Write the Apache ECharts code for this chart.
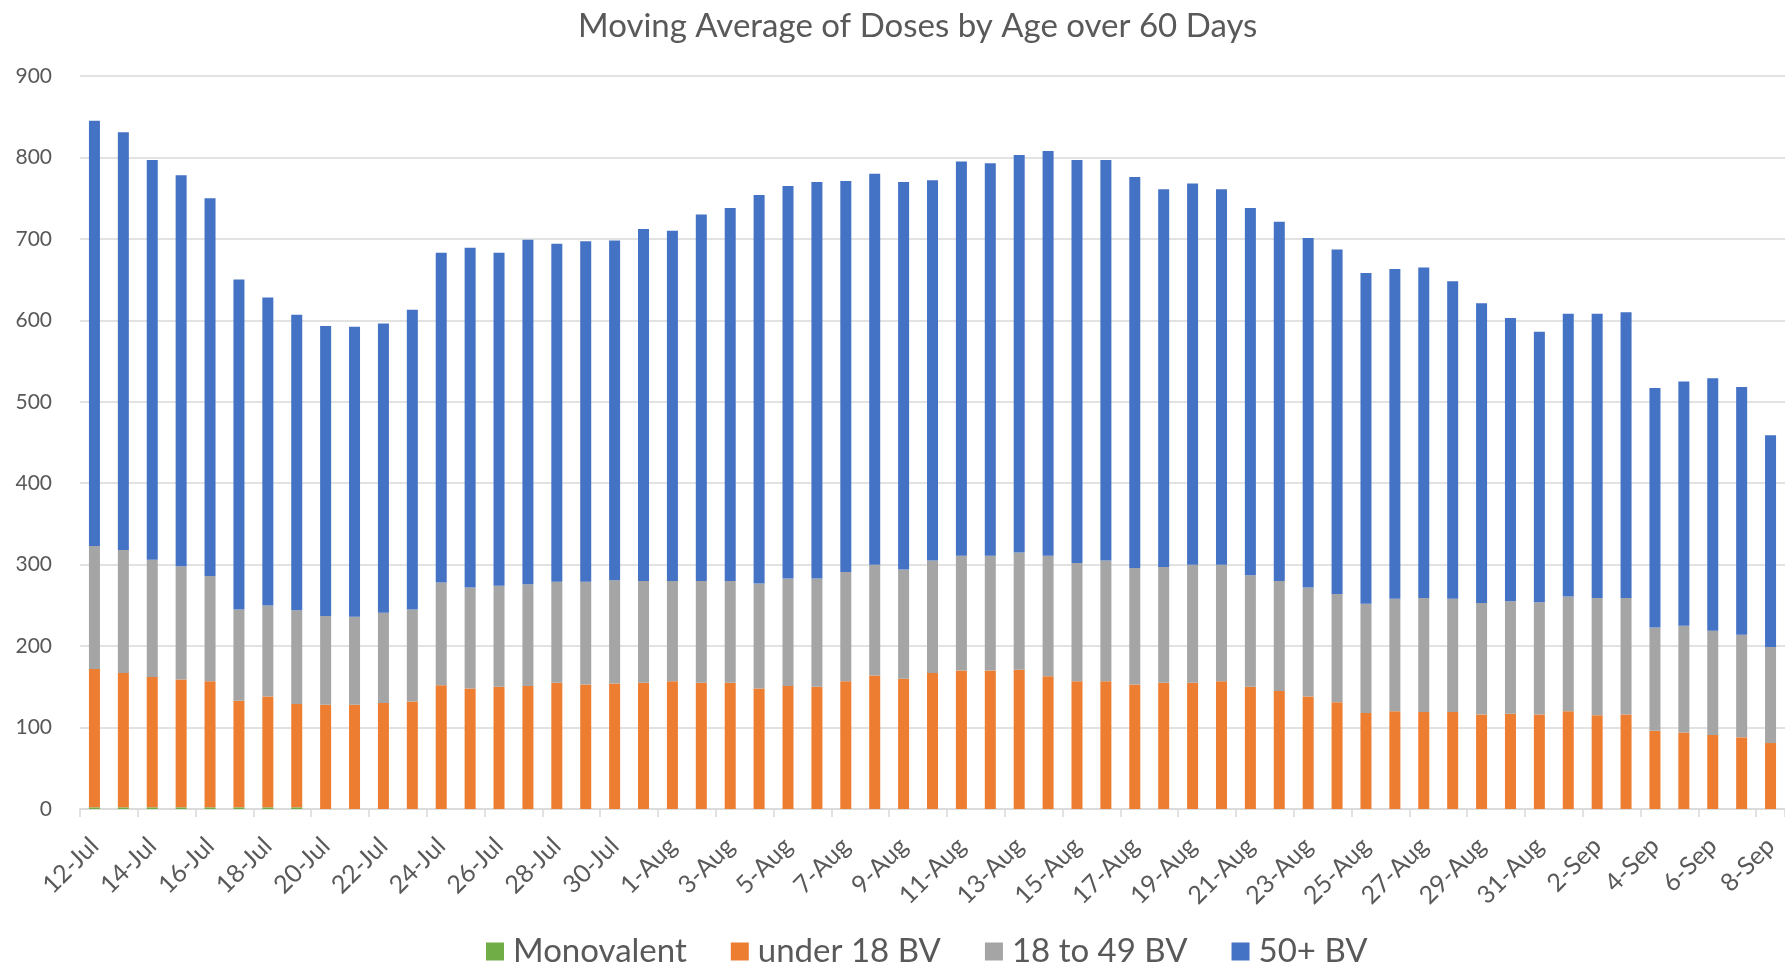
<!DOCTYPE html>
<html>
<head>
<meta charset="utf-8">
<script src="https://cdn.jsdelivr.net/npm/echarts@6/dist/echarts.min.js"></script>
<style>
html,body{margin:0;padding:0;background:#fff;}
#chart{width:1785px;height:963px;}
</style>
</head>
<body>
<div id="chart"></div>
<script>
var categories = ['12-Jul','13-Jul','14-Jul','15-Jul','16-Jul','17-Jul','18-Jul','19-Jul','20-Jul','21-Jul',
  '22-Jul','23-Jul','24-Jul','25-Jul','26-Jul','27-Jul','28-Jul','29-Jul','30-Jul','31-Jul',
  '1-Aug','2-Aug','3-Aug','4-Aug','5-Aug','6-Aug','7-Aug','8-Aug','9-Aug','10-Aug',
  '11-Aug','12-Aug','13-Aug','14-Aug','15-Aug','16-Aug','17-Aug','18-Aug','19-Aug','20-Aug',
  '21-Aug','22-Aug','23-Aug','24-Aug','25-Aug','26-Aug','27-Aug','28-Aug','29-Aug','30-Aug',
  '31-Aug','1-Sep','2-Sep','3-Sep','4-Sep','5-Sep','6-Sep','7-Sep','8-Sep'];

var monovalent = [2,2,2,2,2,2,2,2,0,0, 0,0,0,0,0,0,0,0,0,0, 0,0,0,0,0,0,0,0,0,0,
  0,0,0,0,0,0,0,0,0,0, 0,0,0,0,0,0,0,0,0,0, 0,0,0,0,0,0,0,0,0];

var under18 = [170,165,160,157,155,131,136,127,128,128, 130,132,152,148,150,151,155,153,154,155,
  157,155,155,148,151,150,157,164,160,167, 170,170,171,163,157,157,153,155,155,157,
  150,145,138,131,118,120,119,119,116,117, 116,120,115,116,96,94,91,88,81];

var age18to49 = [151,151,144,139,129,112,112,115,109,108, 111,113,126,124,124,125,124,126,127,125,
  123,125,125,129,132,133,134,136,134,138, 141,141,144,148,145,148,143,142,145,143,
  137,135,134,133,134,138,140,139,137,138, 138,141,144,143,127,131,128,126,118];

var age50plus = [522,513,491,480,464,405,378,363,356,356, 355,368,405,417,409,423,415,418,417,432,
  430,450,458,477,482,487,480,480,476,467, 484,482,488,497,495,492,480,464,468,461,
  451,441,429,423,406,405,406,390,368,348, 332,347,349,351,294,300,310,304,260];

var yTicks = [0,100,200,300,400,500,600,700,800,900];

var FONT = 'Lato';
var TXT = '#595959';

var chart = echarts.init(document.getElementById('chart'), null, {renderer:'canvas'});

function mk(name, data, color) {
  return {
    name: name, type: 'bar', stack: 'total', data: data,
    barWidth: 11,
    itemStyle: {color: color},
    emphasis: {disabled: true}
  };
}

chart.setOption({
  animation: false,
  backgroundColor: '#fff',
  title: {
    text: 'Moving Average of Doses by Age over 60 Days',
    left: 573, top: 5,
    textStyle: {fontFamily: FONT, fontSize: 33, fontWeight: 'normal', color: TXT}
  },
  legend: {
    left: 481, top: 930,
    itemWidth: 18, itemHeight: 18, itemGap: 44,
    icon: 'rect',
    textStyle: {fontFamily: FONT, fontSize: 33, color: TXT, padding: [0,0,0,4]},
    data: ['Monovalent','under 18 BV','18 to 49 BV','50+ BV']
  },
  grid: {left: 80, top: 76, height: 733, width: categories.length * 29.25, containLabel: false},
  xAxis: {
    type: 'category',
    data: categories,
    boundaryGap: true,
    axisLine: {lineStyle: {color: '#d9d9d9', width: 1.5}},
    axisTick: {show: true, interval: 1, length: 8, lineStyle: {color: '#d9d9d9', width: 1.5}},
    axisLabel: {interval: 1, rotate: 45, margin: 33, fontFamily: FONT, fontSize: 25, color: TXT}
  },
  yAxis: {
    type: 'value',
    min: yTicks[0], max: yTicks[yTicks.length-1], interval: 100,
    axisLine: {show: false},
    axisTick: {show: false},
    axisLabel: {margin: 28, fontFamily: FONT, fontSize: 21, color: TXT},
    splitLine: {lineStyle: {color: '#d9d9d9', width: 1.5}}
  },
  series: [
    mk('Monovalent', monovalent, '#70AD47'),
    mk('under 18 BV', under18, '#ED7D31'),
    mk('18 to 49 BV', age18to49, '#A5A5A5'),
    mk('50+ BV', age50plus, '#4472C4')
  ]
});
</script>
</body>
</html>
